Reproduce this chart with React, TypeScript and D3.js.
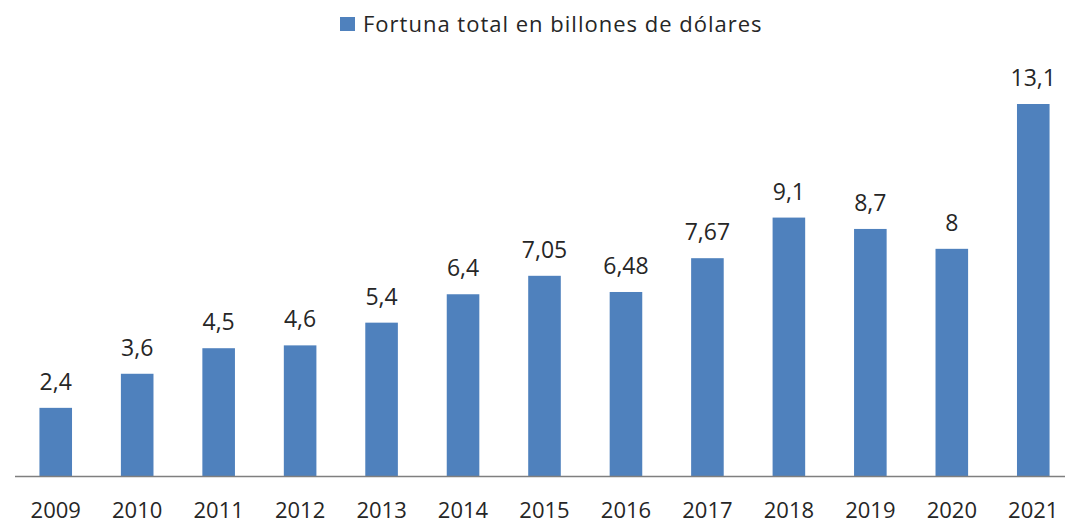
import React from "react";
import * as d3 from "d3";

const years = ["2009", "2010", "2011", "2012", "2013", "2014", "2015", "2016", "2017", "2018", "2019", "2020", "2021"];
const fortune = [2.4, 3.6, 4.5, 4.6, 5.4, 6.4, 7.05, 6.48, 7.67, 9.1, 8.7, 8, 13.1];
const valueLabels = ["2,4", "3,6", "4,5", "4,6", "5,4", "6,4", "7,05", "6,48", "7,67", "9,1", "8,7", "8", "13,1"];
const legendLabel = "Fortuna total en billones de dólares";

const W = 1065;
const H = 525;
const FONT = "'Open Sans', sans-serif";
const BLUE = "#4f81bd";

export default function App() {
  const baseline = 476;
  const x = d3.scaleBand<string>().domain(years).range([15, 1074]).paddingInner(0.6).paddingOuter(0.3);
  const y = d3.scaleLinear().domain([0, 13.1]).range([baseline, 104]);

  return (
    <svg width={W} height={H} style={{ position: "absolute", left: 0, top: 0, background: "#fff" }}>
      {/* legend */}
      <rect x={340} y={17} width={15} height={14} fill={BLUE} />
      <text x={363} y={32} fontFamily={FONT} fontSize={22} letterSpacing={1} fill="#262626">{legendLabel}</text>

      {/* bars */}
      {years.map((yr, i) => (
        <g key={yr}>
          <rect x={x(yr)} y={y(fortune[i])} width={x.bandwidth()} height={baseline - y(fortune[i])} fill={BLUE} />
          <text x={(x(yr) as number) + x.bandwidth() / 2} y={y(fortune[i]) - 18} textAnchor="middle"
            fontFamily={FONT} fontSize={23} fill="#262626">{valueLabels[i]}</text>
          <text x={(x(yr) as number) + x.bandwidth() / 2} y={518} textAnchor="middle"
            fontFamily={FONT} fontSize={22} fill="#262626">{yr}</text>
        </g>
      ))}

      {/* axis line */}
      <line x1={15} x2={W} y1={baseline + 0.5} y2={baseline + 0.5} stroke="#7f7f7f" strokeWidth={1.5} />
    </svg>
  );
}
